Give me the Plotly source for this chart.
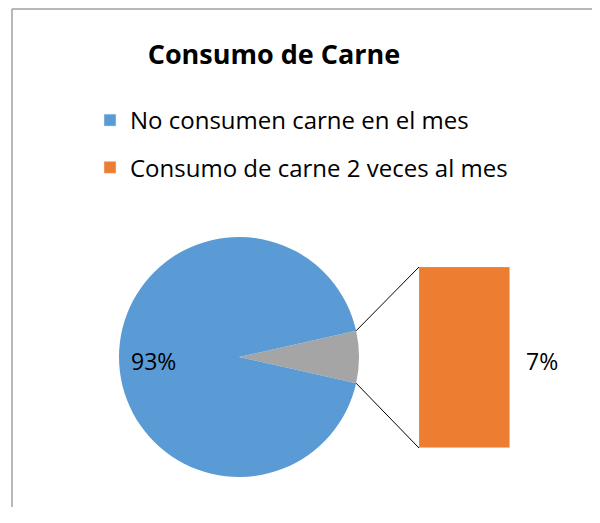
import math
import plotly.graph_objects as go

# data
pie_labels = ['Otros', 'No consumen carne en el mes']
pie_values = [7, 93]
bar_labels = ['Consumo de carne 2 veces al mes']
bar_values = [7]

# page body has an 8px margin, so the figure is drawn smaller to avoid scrollbars
OFF = 8
W, H = 600 - 2 * OFF, 523 - 3 * OFF
BLUE, GRAY, ORANGE = '#5B9BD5', '#A5A5A5', '#ED7D31'
FONT = 'Open Sans'


def fx(X):
    return (X - OFF) / W


def fy(Y):
    return 1 - (Y - OFF) / H


# pie geometry in screen pixels
cx, cy, r = 239, 357, 120
half = pie_values[0] / sum(pie_values) * 360 / 2

fig = go.Figure()

fig.add_trace(go.Pie(
    labels=pie_labels, values=pie_values,
    marker=dict(colors=[GRAY, BLUE], line=dict(width=0)),
    sort=False, direction='clockwise', rotation=90 - half,
    textinfo='none', hoverinfo='label+percent', showlegend=False,
    domain=dict(x=[fx(cx - r), fx(cx + r)], y=[fy(cy + r), fy(cy - r)]),
))

# dummy entry so the legend shows the blue category
fig.add_trace(go.Bar(x=[bar_labels[0]], y=[None], name=pie_labels[1],
                     marker_color=BLUE, legendgroup='a'))
fig.add_trace(go.Bar(x=bar_labels, y=bar_values, name=bar_labels[0],
                     marker_color=ORANGE, width=1, legendgroup='b'))

bx0, bx1, by0, by1 = 419, 510, 267, 448

# connector lines from the slice edge to the bar corners
shapes = []
for sign, ycorner in [(1, by0), (-1, by1)]:
    a = math.radians(half) * sign
    px, py = cx + r * math.cos(a), cy - r * math.sin(a)
    shapes.append(dict(type='line', xref='paper', yref='paper',
                       x0=fx(px), y0=fy(py), x1=fx(bx0), y1=fy(ycorner),
                       line=dict(color='black', width=1)))
# chart border (top and left visible)
shapes.append(dict(type='line', xref='paper', yref='paper', x0=fx(12), x1=1, y0=fy(9), y1=fy(9),
                   line=dict(color='#A0A0A0', width=1.5)))
shapes.append(dict(type='line', xref='paper', yref='paper', x0=fx(12), x1=fx(12), y0=0, y1=fy(9),
                   line=dict(color='#A0A0A0', width=1.5)))

total = sum(pie_values)
annotations = [
    dict(text=f'{round(pie_values[1] / total * 100)}%', xref='paper', yref='paper',
         x=fx(129), y=fy(361), xanchor='left', yanchor='middle', showarrow=False,
         font=dict(family=FONT, size=23, color='black')),
    dict(text=f'{round(bar_values[0] / total * 100)}%', xref='paper', yref='paper',
         x=fx(542), y=fy(361), xanchor='center', yanchor='middle', showarrow=False,
         font=dict(family=FONT, size=23, color='black')),
]

fig.update_layout(
    width=W, height=H,
    margin=dict(l=0, r=0, t=0, b=0),
    paper_bgcolor='white', plot_bgcolor='white',
    title=dict(text='<b>Consumo de Carne</b>', x=fx(274), xanchor='center', y=fy(55), yanchor='middle',
               font=dict(family=FONT, size=27, color='black')),
    xaxis=dict(domain=[fx(bx0), fx(bx1)], range=[-0.5, 0.5], visible=False, type='category'),
    yaxis=dict(domain=[fy(by1), fy(by0)], range=[0, bar_values[0]], visible=False),
    bargap=0, barmode='overlay',
    legend=dict(x=fx(90), y=fy(98), xanchor='left', yanchor='top', traceorder='grouped',
                tracegroupgap=13, font=dict(family=FONT, size=24, color='black'),
                bgcolor='rgba(0,0,0,0)'),
    shapes=shapes, annotations=annotations,
    hovermode=False,
)

fig.write_html('out.html')
